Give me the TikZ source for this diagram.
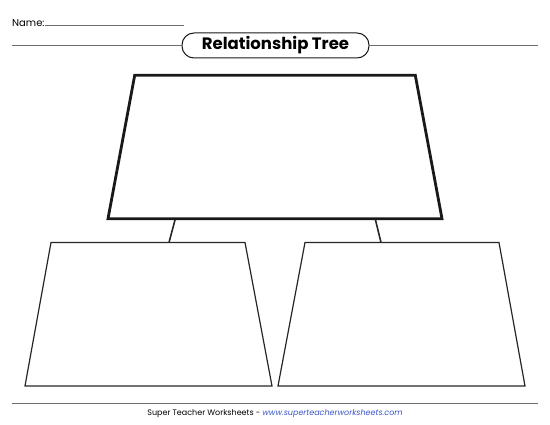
\documentclass[tikz,border=0pt]{standalone}
\usepackage{fontspec}
\setmainfont{Poppins}

\definecolor{rulegray}{HTML}{6E6E6E}
\definecolor{linkblue}{HTML}{3A55C8}

\tikzset{
    rule/.style={rulegray, line width=1pt},
    bigbox/.style={draw=black!90, line width=2.8pt, line join=miter},
    smallbox/.style={draw=black!85, line width=1.2pt, line join=miter},
    branch/.style={black!85, line width=1.6pt}
}

\begin{document}
\begin{tikzpicture}[x=1pt, y=-1pt]
    \useasboundingbox (0,0) rectangle (550,425);

    % Header: name line and title
    \node[anchor=base west, inner sep=0pt, font=\fontsize{10}{12}\selectfont] (name) at (12,26.5) {Name:};
    \coordinate (nameend) at (184,25.5);
    \draw[rule, line width=0.8pt] (name.base east |- nameend) -- (nameend);

    \node[draw=black!90, line width=1pt, rounded corners=12pt, minimum width=187pt, minimum height=25pt,
        inner sep=0pt, font=\bfseries\fontsize{16.5}{18}\selectfont] (title) at (275.5,45.5) {Relationship Tree};
    \coordinate (ruleL) at (12,45.5);
    \coordinate (ruleR) at (538,45.5);
    \draw[rule] (ruleL) -- (title.west);
    \draw[rule] (title.east) -- (ruleR);

    % Top box
    \coordinate (rootTL) at (134.7,75.3);
    \coordinate (rootTR) at (415.3,75.3);
    \coordinate (rootBR) at (442,218.7);
    \coordinate (rootBL) at (108,218.7);
    \draw[bigbox] (rootTL) -- (rootTR) -- (rootBR) -- (rootBL) -- cycle;

    % Left box
    \coordinate (leftTL) at (51,242.5);
    \coordinate (leftTR) at (245,242.5);
    \coordinate (leftBR) at (272,386);
    \coordinate (leftBL) at (25,386);
    \draw[smallbox] (leftTL) -- (leftTR) -- (leftBR) -- (leftBL) -- cycle;

    % Right box
    \coordinate (rightTL) at (305,242.5);
    \coordinate (rightTR) at (499,242.5);
    \coordinate (rightBR) at (525,386);
    \coordinate (rightBL) at (278,386);
    \draw[smallbox] (rightTL) -- (rightTR) -- (rightBR) -- (rightBL) -- cycle;

    % Branches
    \coordinate (branchLa) at (175,220);
    \coordinate (branchLb) at (169,242.5);
    \coordinate (branchRa) at (375.5,220);
    \coordinate (branchRb) at (381,242.5);
    \draw[branch] (branchLa) -- (branchLb);
    \draw[branch] (branchRa) -- (branchRb);

    % Footer
    \coordinate (footL) at (12,404);
    \coordinate (footR) at (538,404);
    \draw[rule] (footL) -- (footR);
    \node[inner sep=0pt, font=\fontsize{8}{9}\selectfont] (footer) at (275,413.5)
        {Super Teacher Worksheets - \textcolor{linkblue}{\itshape www.superteacherworksheets.com}};
\end{tikzpicture}
\end{document}
